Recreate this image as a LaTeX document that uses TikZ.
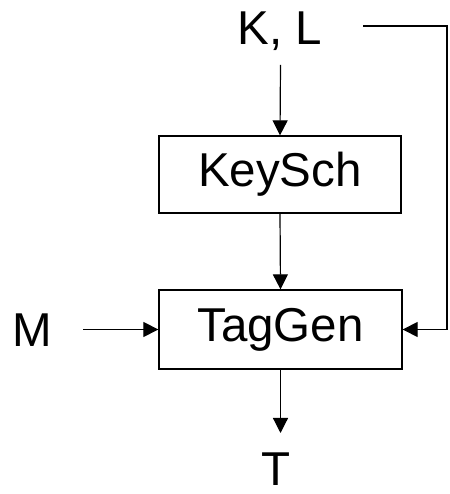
\documentclass[tikz,border=0pt]{standalone}
\usepackage{fontspec}
\setmainfont{Liberation Sans}
\usepackage{tikz}
\usetikzlibrary{arrows.meta}
\tikzset{
	blockbox/.style={rectangle, draw=black, line width=1.3pt, inner sep=0pt, font=\fontsize{47.5pt}{50pt}\selectfont},
	labeltext/.style={inner sep=0pt, font=\fontsize{47.5pt}{50pt}\selectfont},
	flow/.style={line width=1.2pt, -{Triangle[length=15pt,width=15pt]}}
}
\begin{document}
\begin{tikzpicture}[x=1pt,y=1pt]
			\useasboundingbox (0,0) rectangle (449,494);
			% inputs and outputs
			\node[labeltext, anchor=base] (kl) at (280,449) {K, L};
			\node[labeltext, anchor=base] (m) at (32,147) {M};
			\node[labeltext, anchor=base] (t) at (276,9) {T};
			% blocks
			\node[blockbox, minimum width=242pt, minimum height=77pt] (keysch) at (280,319.5) {KeySch};
			\node[blockbox, minimum width=243pt, minimum height=79pt] (taggen) at (280.5,164.5) {TagGen};
			% connector ends
			\coordinate (klout) at (280.5,429);
			\coordinate (fbstart) at (363,468);
			\coordinate (fbcorner) at (447,468);
			\coordinate (mout) at (83,164.5);
			\coordinate (tin) at (280.5,61);
			% connectors
			\draw[flow] (klout) -- (keysch.north);
			\draw[flow] (keysch.south) -- (taggen.north);
			\draw[flow] (fbstart) -- (fbcorner) |- (taggen.east);
			\draw[flow] (mout) -- (taggen.west);
			\draw[flow] (taggen.south) -- (tin);
		\end{tikzpicture}
\end{document}
